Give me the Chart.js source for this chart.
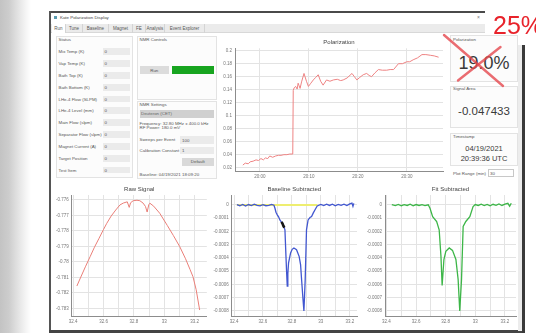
<!DOCTYPE html>
<html>
<head>
<meta charset="utf-8">
<title>Kate Polarization Display</title>
<script src="https://cdn.jsdelivr.net/npm/chart.js@4.4.1/dist/chart.umd.min.js"></script>
<style>
  html, body { margin: 0; padding: 0; }
  body { width: 536px; height: 333px; overflow: hidden; position: relative; background: #fff;
         font-family: "Liberation Sans", Arial, sans-serif; color: #444; }
  .abs { position: absolute; }
  .t { position: absolute; font-size: 4.4px; line-height: 5px; white-space: nowrap; color: #555; }
  .box { position: absolute; border: 1px solid #e3e3e3; background: #fcfcfc; box-sizing: border-box; }
  .inp { position: absolute; background: #ebebeb; box-sizing: border-box; }
  .tab { position: absolute; top: 24px; height: 9px; font-size: 4.5px; line-height: 9px; text-align: center;
         color: #555; border-right: 1px solid #d4d4d4; box-sizing: border-box; }
  canvas { position: absolute; }
  .readout { position: absolute; left: 450px; width: 68px; text-align: center; color: #3a3a3a; white-space: nowrap; }
</style>
</head>
<body>

<!-- desktop edge -->
<div class="abs" style="left:0;top:0;width:31px;height:333px;background:linear-gradient(to right,#c3c3c3 0,#cdcdcd 9px,#dedede 16px,#f3f3f3 25px,#fff 31px)"></div>

<!-- window frame -->
<div class="abs" style="left:50px;top:11px;width:435px;height:2px;background:#4a4a4a"></div>
<div class="abs" style="left:49px;top:11px;width:2px;height:322px;background:#555"></div>
<div class="abs" style="left:49px;top:330px;width:476px;height:3px;background:#444"></div>
<div class="abs" style="left:518px;top:45px;width:4px;height:286px;background:#ececec"></div>
<div class="abs" style="left:522px;top:45px;width:2.5px;height:288px;background:#3a3a3a"></div>

<!-- title bar -->
<div class="abs" style="left:54px;top:15.5px;width:3px;height:3px;background:#5a9bb0"></div>
<div class="t" style="left:60px;top:15px;color:#444">Kate Polarization Display</div>
<div class="t" style="left:477px;top:14.5px;font-size:5px;color:#777">×</div>

<!-- tab bar -->
<div class="abs" style="left:51px;top:24px;width:434px;height:9px;background:#ebebeb;border-bottom:1px solid #d8d8d8;box-sizing:border-box"></div>
<div id="tabs"></div>

<!-- Status group -->
<div class="box" style="left:56px;top:36px;width:77px;height:142px"></div>
<div class="t" style="left:58.5px;top:37px">Status</div>
<div id="status"></div>

<!-- NMR Controls group -->
<div class="box" style="left:137px;top:36px;width:80px;height:64px"></div>
<div class="t" style="left:139.5px;top:37px">NMR Controls</div>
<div class="abs" style="left:140px;top:66px;width:28.5px;height:8px;background:#dcdcdc"></div>
<div class="t" style="left:140px;top:67.5px;width:28.5px;text-align:center">Run</div>
<div class="abs" style="left:171.5px;top:66px;width:42.5px;height:8px;background:#18a520"></div>

<!-- NMR Settings group -->
<div class="box" style="left:137px;top:100.5px;width:80px;height:78px"></div>
<div class="t" style="left:139.5px;top:102px">NMR Settings</div>
<div class="abs" style="left:139.5px;top:109.5px;width:74.5px;height:8px;background:#d0d0d0"></div>
<div class="t" style="left:141px;top:111px;color:#666">Deuteron (CET)</div>
<div class="t" style="left:139.5px;top:120.5px">Frequency: 32.80 MHz ± 400.0 kHz</div>
<div class="t" style="left:139.5px;top:125px">RF Power: 180.0 mV</div>
<div class="t" style="left:139.5px;top:137px">Sweeps per Event</div>
<div class="inp" style="left:180px;top:136px;width:34px;height:7.5px"></div>
<div class="t" style="left:182px;top:137.5px">100</div>
<div class="t" style="left:139.5px;top:148px">Calibration Constant</div>
<div class="inp" style="left:180px;top:146.5px;width:34px;height:7.5px"></div>
<div class="t" style="left:182px;top:148px">1</div>
<div class="abs" style="left:181.5px;top:157.5px;width:32.5px;height:8px;background:#d9d9d9"></div>
<div class="t" style="left:181.5px;top:159px;width:32.5px;text-align:center">Default</div>
<div class="t" style="left:139.5px;top:172px">Baseline: 04/19/2021 18:09:20</div>

<!-- readout column -->
<div class="box" style="left:450px;top:35px;width:68px;height:47px"></div>
<div class="t" style="left:453px;top:37px">Polarization</div>
<div class="readout" id="polReadout" style="top:51px;font-size:18px;line-height:24px"></div>
<div class="box" style="left:450px;top:86px;width:68px;height:42px"></div>
<div class="t" style="left:453px;top:86px">Signal Area</div>
<div class="readout" id="areaReadout" style="top:103px;font-size:11.5px;line-height:16px"></div>
<div class="box" style="left:450px;top:133px;width:68px;height:33px"></div>
<div class="t" style="left:453px;top:134px">Timestamp</div>
<div class="readout" id="timeReadout" style="top:143.5px;font-size:7.5px;line-height:10.3px"></div>
<div class="t" style="left:453px;top:170.5px">Plot Range (min)</div>
<div class="abs" style="left:488px;top:169px;width:26px;height:7.5px;background:#fff;border:1px solid #c8c8c8;box-sizing:border-box"></div>
<div class="t" style="left:490px;top:170.5px">30</div>

<!-- charts -->
<canvas id="polChart" width="232" height="143" style="left:215px;top:37px"></canvas>
<canvas id="rawChart" width="160" height="147" style="left:50px;top:183px"></canvas>
<canvas id="baseChart" width="150" height="147" style="left:210px;top:183px"></canvas>
<canvas id="fitChart" width="157" height="147" style="left:363px;top:183px"></canvas>

<!-- crossed-out readout and note -->
<svg class="abs" style="left:0;top:0" width="536" height="333">
  <line x1="444" y1="35" x2="503" y2="86" stroke="#e5474d" stroke-opacity="0.8" stroke-width="2.4" stroke-linecap="round"/>
  <line x1="500.5" y1="47" x2="458" y2="80.5" stroke="#e5474d" stroke-opacity="0.8" stroke-width="2.4" stroke-linecap="round"/>
</svg>
<div class="abs" style="left:493px;top:9.5px;font-size:25px;line-height:30px;color:#e8232b;white-space:nowrap">25%</div>

<script>
// ---- Polarization history: minutes after 20:00 and polarization fraction ----
const polMinutes = [-3.5, -3.0, -2.4, -2.0, -1.4, -0.8, -0.3, 0.2, 0.7, 1.1, 1.6, 2.0, 2.6, 3.2, 3.8, 4.3, 4.9,
  5.5, 6.1, 6.7, 6.8, 7.0, 7.3, 7.6, 7.8, 8.0, 8.2, 8.5, 9.0, 9.5, 9.9, 10.4, 10.9, 11.4, 11.9, 12.4, 12.9,
  13.6, 14.3, 15.0, 15.8, 16.5, 17.0, 17.8, 18.8, 19.3, 19.8, 20.4, 21.1, 21.8, 22.3, 22.8, 23.5, 24.2, 25.0,
  25.9, 26.6, 27.3, 28.3, 29.1, 30.0, 30.6, 31.3, 32.2, 33.1, 33.9, 34.8, 35.6, 36.5];
const polValues = [0.024, 0.027, 0.026, 0.029, 0.030, 0.032, 0.031, 0.034, 0.032, 0.035, 0.034, 0.038, 0.036,
  0.038, 0.039, 0.039, 0.040, 0.040, 0.041, 0.041, 0.139, 0.143, 0.145, 0.141, 0.150, 0.146, 0.142, 0.152,
  0.165, 0.153, 0.145, 0.150, 0.155, 0.159, 0.163, 0.153, 0.147, 0.155, 0.153, 0.155, 0.156, 0.154, 0.155,
  0.158, 0.165, 0.160, 0.155, 0.159, 0.163, 0.165, 0.162, 0.160, 0.166, 0.171, 0.170, 0.170, 0.171, 0.171,
  0.180, 0.180, 0.183, 0.183, 0.186, 0.189, 0.194, 0.194, 0.193, 0.192, 0.190];
const polXTicks = [0, 10, 20, 30];
const polXLabels = ['20:00', '20:10', '20:20', '20:30'];
const polYTicks = [0.02, 0.04, 0.06, 0.08, 0.1, 0.12, 0.14, 0.16, 0.18, 0.2];
const polYLabels = ['0.02', '0.04', '0.06', '0.08', '0.1', '0.12', '0.14', '0.16', '0.18', '0.2'];

// ---- Raw NMR sweep: frequency (MHz) and signal (V) ----
const rawFreq = [32.424, 32.45, 32.48, 32.511, 32.54, 32.57, 32.60, 32.621, 32.65, 32.68, 32.708, 32.73,
  32.756, 32.769, 32.778, 32.795, 32.82, 32.839, 32.86, 32.876, 32.887, 32.898, 32.905, 32.93, 32.97, 33.02,
  33.06, 33.102, 33.14, 33.17, 33.189, 33.21, 33.233];
const rawSignal = [-0.78156, -0.78098, -0.78032, -0.77967, -0.77905, -0.77848, -0.77790, -0.77751, -0.77704,
  -0.77665, -0.77632, -0.77620, -0.77612, -0.77648, -0.77618, -0.77605, -0.77602, -0.77605, -0.77620,
  -0.77642, -0.77678, -0.77630, -0.77621, -0.77640, -0.77686, -0.77765, -0.77830, -0.77902, -0.77980,
  -0.78050, -0.78096, -0.78180, -0.78311];
const rawYTicks = [-0.783, -0.782, -0.781, -0.78, -0.779, -0.778, -0.777, -0.776];
const rawYLabels = ['-0.783', '-0.782', '-0.781', '-0.78', '-0.779', '-0.778', '-0.777', '-0.776'];
const freqTicks = [32.4, 32.5, 32.6, 32.7, 32.8, 32.9, 33.0, 33.1, 33.2];
const freqLabels = ['32.4', '', '32.6', '', '32.8', '', '33', '', '33.2'];

// ---- Baseline-subtracted sweep ----
const baseFreq = [32.42, 32.44, 32.46, 32.48, 32.50, 32.52, 32.54, 32.56, 32.58, 32.60, 32.62, 32.64, 32.66,
  32.676, 32.683, 32.69, 32.699, 32.708, 32.717, 32.728, 32.740, 32.752, 32.759, 32.764, 32.768, 32.772,
  32.777, 32.791, 32.802, 32.814, 32.832, 32.850, 32.860, 32.867, 32.876, 32.883, 32.887, 32.892, 32.901,
  32.912, 32.925, 32.936, 32.948, 32.959, 32.975, 33.00, 33.02, 33.04, 33.06, 33.08, 33.10, 33.12, 33.14,
  33.16, 33.18, 33.20, 33.215, 33.222, 33.228];
const baseSignal = [0.000002, -0.000006, 0.000004, -0.000008, 0.000003, -0.000005, 0.000006, -0.000004,
  -0.000007, 0.000002, -0.000006, -0.000003, 0.000004, -0.000002, -0.000025, -0.000055, -0.000075,
  -0.000090, -0.000113, -0.000130, -0.000150, -0.000188, -0.000388, -0.000520, -0.000613, -0.000520,
  -0.000437, -0.000362, -0.000335, -0.000325, -0.000338, -0.000388, -0.000450, -0.000563, -0.000700,
  -0.000800, -0.000700, -0.000563, -0.000188, -0.000113, -0.000095, -0.000088, -0.000060, -0.000038,
  -0.000008, 0.000004, -0.000005, 0.000006, -0.000004, 0.000005, -0.000006, 0.000004, -0.000003,
  0.000006, -0.000005, 0.000008, 0.000014, -0.000010, 0.000012];
// fitted baseline level across the sweep
const baseFitFreq = [32.42, 32.975];
const baseFitLevel = [0, 0];
// highlighted stretch of the sweep
const markFreq = [32.728, 32.735, 32.742, 32.748];
const markSignal = [-0.000128, -0.000140, -0.000160, -0.000172];

// ---- Fit-subtracted sweep ----
const fitFreq = [32.436, 32.46, 32.48, 32.50, 32.52, 32.54, 32.56, 32.58, 32.60, 32.62, 32.64, 32.66, 32.682,
  32.694, 32.712, 32.739, 32.756, 32.768, 32.776, 32.788, 32.801, 32.824, 32.846, 32.869, 32.884, 32.895,
  32.907, 32.918, 32.936, 32.963, 32.985, 33.00, 33.02, 33.04, 33.06, 33.08, 33.10, 33.12, 33.14, 33.16,
  33.18, 33.20, 33.22, 33.232, 33.243];
const fitSignal = [0.000003, -0.000005, 0.000004, -0.000006, 0.000002, -0.000004, 0.000005, -0.000007,
  0.000003, -0.000004, 0.000002, -0.000005, 0.000001, -0.000025, -0.000088, -0.000125, -0.000188, -0.000388,
  -0.000608, -0.000412, -0.000350, -0.000325, -0.000343, -0.000412, -0.000562, -0.000800, -0.000562,
  -0.000162, -0.000125, -0.000088, -0.000013, 0.000003, -0.000004, 0.000006, -0.000005, 0.000004,
  -0.000006, 0.000005, -0.000003, 0.000007, -0.000004, 0.000006, 0.000012, -0.000009, 0.000013];
const subYTicks = [-0.0008, -0.0007, -0.0006, -0.0005, -0.0004, -0.0003, -0.0002, -0.0001, 0];
const subYLabels = ['-0.0008', '-0.0007', '-0.0006', '-0.0005', '-0.0004', '-0.0003', '-0.0002', '-0.0001', '0'];

// ---- Readouts ----
const signalArea = -0.047433;
const timestampLines = ['04/19/2021', '20:39:36 UTC'];

// ---- Window chrome ----
const tabNames = ['Run', 'Tune', 'Baseline', 'Magnet', 'FE', 'Analysis', 'Event Explorer'];
const tabEdges = [52, 66, 83, 109, 133, 146, 165, 205];
const statusLabels = ['Mix Temp (K)', 'Vap Temp (K)', 'Bath Top (K)', 'Bath Bottom (K)', 'LHe-4 Flow (SLPM)',
  'LHe-4 Level (mm)', 'Main Flow (slpm)', 'Separator Flow (slpm)', 'Magnet Current (A)', 'Target Position',
  'Test Item'];

const tabsEl = document.getElementById('tabs');
tabNames.forEach((name, i) => {
  const d = document.createElement('div');
  d.className = 'tab';
  d.style.left = tabEdges[i] + 'px';
  d.style.width = (tabEdges[i + 1] - tabEdges[i]) + 'px';
  if (i === 0) d.style.background = '#fff';
  d.textContent = name;
  tabsEl.appendChild(d);
});

const statusEl = document.getElementById('status');
statusLabels.forEach((name, i) => {
  const cy = 51.7 + i * 11.83;
  const l = document.createElement('div');
  l.className = 't';
  l.style.left = '58.5px';
  l.style.top = (cy - 2.5) + 'px';
  l.textContent = name;
  statusEl.appendChild(l);
  const box = document.createElement('div');
  box.className = 'inp';
  box.style.left = '103px';
  box.style.top = (cy - 3.4) + 'px';
  box.style.width = '27px';
  box.style.height = '6.8px';
  statusEl.appendChild(box);
  const v = document.createElement('div');
  v.className = 't';
  v.style.left = '104.5px';
  v.style.top = (cy - 2.5) + 'px';
  v.textContent = '0';
  statusEl.appendChild(v);
});

document.getElementById('polReadout').textContent = (polValues[polValues.length - 1] * 100).toFixed(1) + '%';
document.getElementById('areaReadout').textContent = signalArea.toFixed(6);
document.getElementById('timeReadout').innerHTML = timestampLines.join('<br>');

// ---- Chart helpers ----
const FONT = '"Liberation Sans", Arial, sans-serif';
const pts = (xs, ys) => xs.map((x, i) => ({ x, y: ys[i] }));

function scaleOpts(axis, s) {
  return {
    type: 'linear',
    min: s.min,
    max: s.max,
    afterBuildTicks: sc => { sc.ticks = s.ticks.map(v => ({ value: v })); },
    afterFit: sc => { if (axis === 'x') sc.height = s.size; else sc.width = s.size; },
    grid: { color: '#e3e3e3', lineWidth: 1, drawTicks: false },
    border: { color: '#8c8c8c', width: 1 },
    ticks: {
      autoSkip: false, maxRotation: 0, minRotation: 0, padding: s.pad,
      color: '#777', font: { family: FONT, size: 4.5 },
      callback: (v, i) => s.labels[i]
    }
  };
}

function plot(id, o) {
  return new Chart(document.getElementById(id), {
    type: 'line',
    data: { datasets: o.datasets },
    options: {
      responsive: false,
      animation: false,
      events: [],
      parsing: true,
      layout: { padding: o.padding },
      elements: { point: { radius: 0 }, line: { tension: 0 } },
      plugins: {
        legend: { display: false },
        tooltip: { enabled: false },
        title: {
          display: true, text: o.title, fullSize: false, color: '#444',
          font: { family: FONT, size: 6, weight: 'normal' }, padding: o.titlePad
        }
      },
      scales: { x: scaleOpts('x', o.x), y: scaleOpts('y', o.y) }
    }
  });
}

plot('polChart', {
  title: 'Polarization',
  titlePad: { top: 2, bottom: 2.1 },
  padding: { left: 0, right: 4, top: 0, bottom: 0 },
  datasets: [{ data: pts(polMinutes, polValues), borderColor: '#ee8383', borderWidth: 1 }],
  x: { min: -5.1, max: 37.4, ticks: polXTicks, labels: polXLabels, size: 8.3, pad: 2 },
  y: { min: 0.0138, max: 0.2037, ticks: polYTicks, labels: polYLabels, size: 20, pad: 3 }
});

plot('rawChart', {
  title: 'Raw Signal',
  titlePad: { top: 2.5, bottom: 2.3 },
  padding: { left: 0, right: 3.2, top: 0, bottom: 0 },
  datasets: [{ data: pts(rawFreq, rawSignal), borderColor: '#ea7f78', borderWidth: 1 }],
  x: { min: 32.39, max: 33.28, ticks: freqTicks, labels: freqLabels, size: 13.3, pad: 2 },
  y: { min: -0.78354, max: -0.77568, ticks: rawYTicks, labels: rawYLabels, size: 21.7, pad: 3 }
});

plot('baseChart', {
  title: 'Baseline Subtracted',
  titlePad: { top: 2.5, bottom: 2.3 },
  padding: { left: 0, right: 3, top: 0, bottom: 0 },
  datasets: [
    { data: pts(markFreq, markSignal), borderColor: '#151515', borderWidth: 2.6, order: 0 },
    { data: pts(baseFreq, baseSignal), borderColor: '#4257d0', borderWidth: 1.3, order: 1 },
    { data: pts(baseFitFreq, baseFitLevel), borderColor: '#eeee70', borderWidth: 2, order: 2 }
  ],
  x: { min: 32.384, max: 33.25, ticks: freqTicks, labels: freqLabels, size: 13.3, pad: 2 },
  y: { min: -0.000844, max: 0.000075, ticks: subYTicks, labels: subYLabels, size: 21.7, pad: 3 }
});

plot('fitChart', {
  title: 'Fit Subtracted',
  titlePad: { top: 2.5, bottom: 2.3 },
  padding: { left: 0, right: 4, top: 0, bottom: 0 },
  datasets: [{ data: pts(fitFreq, fitSignal), borderColor: '#3db648', borderWidth: 1.3 }],
  x: { min: 32.39, max: 33.275, ticks: freqTicks, labels: freqLabels, size: 13.3, pad: 2 },
  y: { min: -0.000844, max: 0.000075, ticks: subYTicks, labels: subYLabels, size: 22, pad: 3 }
});
</script>
</body>
</html>
